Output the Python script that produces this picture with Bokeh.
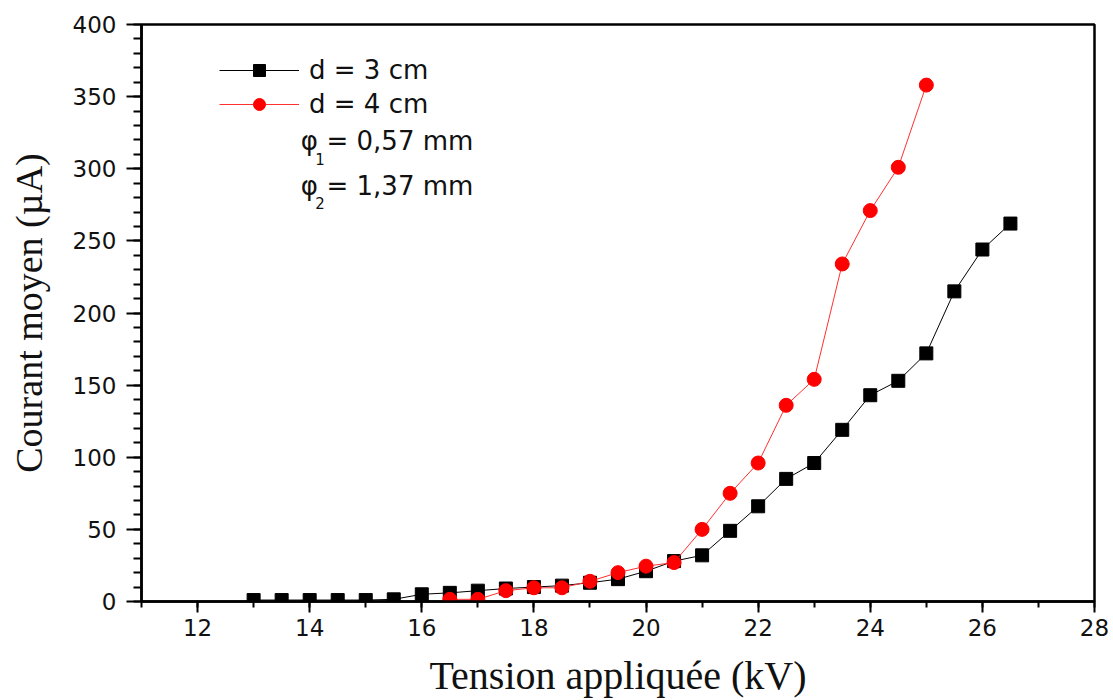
from bokeh.plotting import figure
from bokeh.models import (ColumnDataSource, Legend, LegendItem, Range1d,
                          SingleIntervalTicker, Label)
from bokeh.embed import file_html
from bokeh.resources import INLINE

# ---- data ----
x_d3 = [13, 13.5, 14, 14.5, 15, 15.5, 16, 16.5, 17, 17.5, 18, 18.5, 19, 19.5,
        20, 20.5, 21, 21.5, 22, 22.5, 23, 23.5, 24, 24.5, 25, 25.5, 26, 26.5]
y_d3 = [1, 1, 1, 1, 1, 1.5, 5, 6, 7.5, 9, 10, 11, 13, 15.5,
        21, 28, 32, 49, 66, 85, 96, 119, 143, 153, 172, 215, 244, 262]
x_d4 = [16.5, 17, 17.5, 18, 18.5, 19, 19.5, 20, 20.5, 21, 21.5, 22, 22.5,
        23, 23.5, 24, 24.5, 25]
y_d4 = [1.5, 1.5, 7.5, 9.5, 9.5, 14, 20, 24.5, 27, 50, 75, 96, 136, 154,
        234, 271, 301, 358]
series_labels = ["d = 3 cm", "d = 4 cm"]
note_lines = [("1", "= 0,57 mm"), ("2", "= 1,37 mm")]
x_label = "Tension appliquée (kV)"
y_label = "Courant moyen (µA)"

p = figure(width=1113, height=700, output_backend="svg", toolbar_location=None,
           x_range=Range1d(11, 28), y_range=Range1d(0, 400),
           min_border_left=141, min_border_right=19, min_border_top=24,
           min_border_bottom=98)
p.background_fill_color = "white"
p.border_fill_color = "white"
p.outline_line_color = "black"
p.outline_line_width = 2.5
p.xgrid.visible = False
p.ygrid.visible = False

s3 = ColumnDataSource(dict(x=x_d3, y=y_d3))
s4 = ColumnDataSource(dict(x=x_d4, y=y_d4))

l3 = p.line("x", "y", source=s3, line_color="black", line_width=1)
m3 = p.scatter("x", "y", source=s3, marker="square", size=13, fill_color="black",
               line_color="black")
l4 = p.line("x", "y", source=s4, line_color="#ff3030", line_width=1)
m4 = p.scatter("x", "y", source=s4, marker="circle", size=14, fill_color="#ff0000",
               line_color="#ff0000")

# axes
p.xaxis.ticker = SingleIntervalTicker(interval=2, num_minor_ticks=2)
p.yaxis.ticker = SingleIntervalTicker(interval=50, num_minor_ticks=5)
for ax in (p.xaxis[0], p.yaxis[0]):
    ax.axis_line_width = 2.5
    ax.axis_line_color = "black"
    ax.major_tick_line_width = 2
    ax.minor_tick_line_width = 2
    ax.major_tick_line_color = "black"
    ax.minor_tick_line_color = "black"
    ax.major_tick_in = 0
    ax.minor_tick_in = 0
    ax.major_label_text_font = "DejaVu Sans"
    ax.major_label_text_font_size = "23px"
    ax.major_label_text_color = "#111111"
    ax.axis_label_text_font = "Liberation Serif"
    ax.axis_label_text_font_style = "normal"
    ax.axis_label_text_color = "#111111"

p.xaxis.major_tick_out = 11
p.xaxis.minor_tick_out = 6
p.yaxis.major_tick_out = 15
p.yaxis.minor_tick_out = 8
p.xaxis.major_label_standoff = 6
p.yaxis.major_label_standoff = 10
p.xaxis.axis_label = x_label
p.yaxis.axis_label = y_label
p.xaxis.axis_label_text_font_size = "40px"
p.yaxis.axis_label_text_font_size = "38px"
p.xaxis.axis_label_standoff = 14
p.yaxis.axis_label_standoff = 20

# legend
legend = Legend(items=[LegendItem(label=series_labels[0], renderers=[l3, m3]),
                       LegendItem(label=series_labels[1], renderers=[l4, m4])],
                location=(78, 482), orientation="vertical")
legend.glyph_width = 80
legend.glyph_height = 30
legend.label_height = 30
legend.spacing = 4
legend.padding = 0
legend.margin = 0
legend.label_standoff = 10
legend.border_line_color = None
legend.background_fill_alpha = 0
legend.label_text_font = "DejaVu Sans"
legend.label_text_font_size = "26px"
legend.label_text_color = "#111111"
p.add_layout(legend)

# phi notes (annotation positions in data units)
note_y = [319, 288]
for (sub, rest), yy in zip(note_lines, note_y):
    p.add_layout(Label(x=13.84, y=yy, text="φ", text_font="DejaVu Sans",
                       text_font_size="26px", text_baseline="middle",
                       text_color="#111111"))
    p.add_layout(Label(x=14.1, y=yy - 12, text=sub, text_font="DejaVu Sans",
                       text_font_size="15px", text_baseline="middle",
                       text_color="#111111"))
    p.add_layout(Label(x=14.3, y=yy, text=rest, text_font="DejaVu Sans",
                       text_font_size="26px", text_baseline="middle",
                       text_color="#111111"))

open("out.html", "w").write(file_html(p, INLINE))
